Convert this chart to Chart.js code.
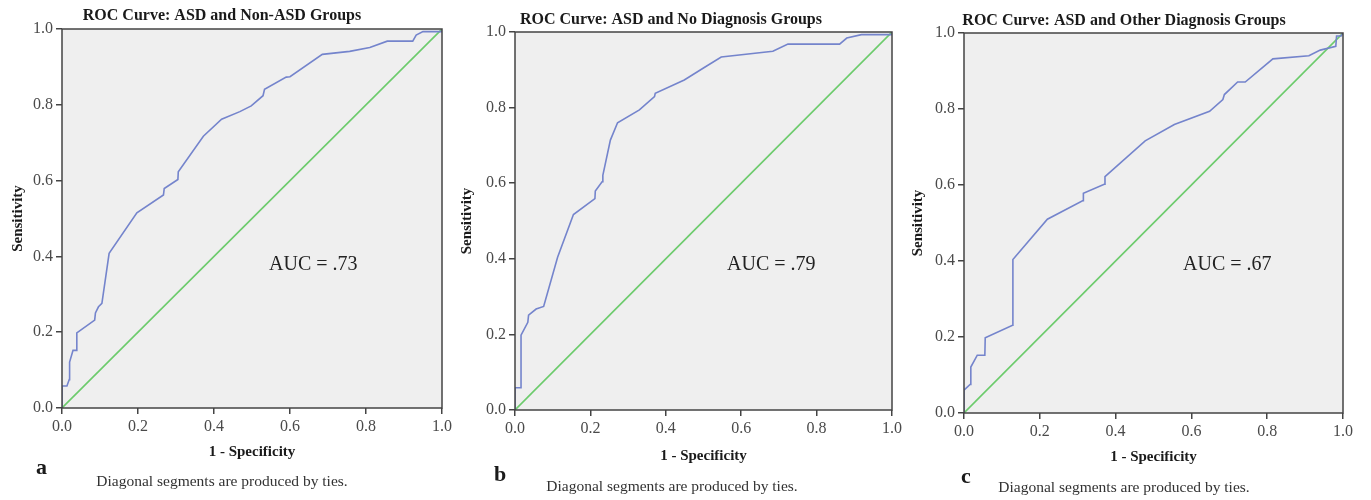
<!DOCTYPE html>
<html>
<head>
<meta charset="utf-8">
<script src="https://cdn.jsdelivr.net/npm/chart.js@4/dist/chart.umd.min.js"></script>
<style>
  body { margin: 0; background: #fff; }
  #wrap { position: relative; width: 1371px; height: 500px; }
  canvas { position: absolute; top: 0; }
</style>
</head>
<body>
<div id="wrap">
  <canvas id="rocA" width="455" height="500" style="left:0px"></canvas>
  <canvas id="rocB" width="455" height="500" style="left:455px"></canvas>
  <canvas id="rocC" width="461" height="500" style="left:910px"></canvas>
</div>
<script>
// axis ticks
var tickValues = [0, 0.2, 0.4, 0.6, 0.8, 1.0];

// chance line
var chanceX = [0, 1];
var chanceY = [0, 1];

// panel a: ASD vs Non-ASD
var fprA = [0, 0, 0.013, 0.019, 0.020, 0.029, 0.039, 0.039, 0.086, 0.088, 0.096, 0.105, 0.124, 0.197, 0.267, 0.269, 0.305, 0.306, 0.372, 0.420, 0.468, 0.498, 0.529, 0.533, 0.590, 0.600, 0.685, 0.757, 0.810, 0.856, 0.923, 0.932, 0.950, 1.0, 1.0];
var tprA = [0, 0.058, 0.058, 0.075, 0.121, 0.152, 0.152, 0.198, 0.232, 0.251, 0.267, 0.276, 0.408, 0.515, 0.562, 0.579, 0.603, 0.623, 0.717, 0.762, 0.782, 0.797, 0.824, 0.841, 0.873, 0.874, 0.933, 0.941, 0.951, 0.968, 0.968, 0.984, 0.993, 0.993, 1.0];

// panel b: ASD vs No Diagnosis
var fprB = [0, 0, 0.016, 0.016, 0.034, 0.036, 0.056, 0.076, 0.113, 0.155, 0.212, 0.213, 0.231, 0.233, 0.253, 0.272, 0.330, 0.370, 0.372, 0.449, 0.502, 0.547, 0.684, 0.724, 0.861, 0.880, 0.919, 1.0, 1.0];
var tprB = [0, 0.059, 0.059, 0.198, 0.232, 0.251, 0.267, 0.274, 0.404, 0.517, 0.559, 0.579, 0.604, 0.621, 0.714, 0.760, 0.794, 0.829, 0.838, 0.873, 0.906, 0.934, 0.949, 0.968, 0.968, 0.984, 0.993, 0.993, 1.0];

// panel c: ASD vs Other Diagnosis
var fprC = [0, 0, 0.016, 0.018, 0.035, 0.055, 0.056, 0.128, 0.129, 0.220, 0.314, 0.315, 0.370, 0.372, 0.478, 0.555, 0.648, 0.683, 0.687, 0.722, 0.742, 0.815, 0.910, 0.940, 0.981, 0.983, 0.995, 1.0];
var tprC = [0, 0.060, 0.075, 0.121, 0.152, 0.152, 0.198, 0.231, 0.404, 0.510, 0.559, 0.578, 0.602, 0.622, 0.716, 0.759, 0.794, 0.825, 0.838, 0.871, 0.871, 0.932, 0.940, 0.955, 0.965, 0.992, 0.992, 1.0];

var titles = ['ROC Curve: ASD and Non-ASD Groups', 'ROC Curve: ASD and No Diagnosis Groups', 'ROC Curve: ASD and Other Diagnosis Groups'];
var aucLabels = ['AUC = .73', 'AUC = .79', 'AUC = .67'];
var panelLetters = ['a', 'b', 'c'];
var xTitle = '1 - Specificity';
var yTitle = 'Sensitivity';
var footnote = 'Diagonal segments are produced by ties.';

var SERIF = '"Liberation Serif", "Times New Roman", serif';

function pts(xs, ys) {
  return xs.map(function (x, i) { return { x: x, y: ys[i] }; });
}

// layout of each panel inside its own canvas
var panels = [
  { id: 'rocA', fpr: fprA, tpr: tprA, plot: [62, 29, 442, 408],
    titleX: 222, titleY: 16, yTitleX: 18, xTitleY: 452, letterX: 42, letterY: 468, noteX: 222, noteY: 482, aucX: 269, aucY: 265 },
  { id: 'rocB', fpr: fprB, tpr: tprB, plot: [60, 32, 437, 410],
    titleX: 216, titleY: 20, yTitleX: 12, xTitleY: 456, letterX: 45, letterY: 475, noteX: 217, noteY: 487, aucX: 272, aucY: 265 },
  { id: 'rocC', fpr: fprC, tpr: tprC, plot: [54, 33, 433, 413],
    titleX: 214, titleY: 21, yTitleX: 8, xTitleY: 457, letterX: 57, letterY: 477, noteX: 214, noteY: 488, aucX: 273, aucY: 265 }
];

var X_AXIS_H = 30;

function makeChart(p, idx) {
  var canvas = document.getElementById(p.id);
  var W = canvas.width, H = canvas.height;

  var decor = {
    id: 'decor' + idx,
    beforeDatasetsDraw: function (chart) {
      var a = chart.chartArea, ctx = chart.ctx;
      ctx.save();
      ctx.fillStyle = '#efefef';
      ctx.fillRect(a.left, a.top, a.right - a.left, a.bottom - a.top);
      ctx.restore();
    },
    afterDatasetsDraw: function (chart) {
      var a = chart.chartArea, ctx = chart.ctx;
      ctx.save();
      ctx.strokeStyle = '#444';
      ctx.lineWidth = 1.5;
      ctx.strokeRect(a.left, a.top, a.right - a.left, a.bottom - a.top);

      ctx.fillStyle = '#1a1a1a';
      ctx.textBaseline = 'middle';
      ctx.textAlign = 'center';
      ctx.font = 'bold 16px ' + SERIF;
      ctx.fillText(titles[idx], p.titleX, p.titleY);

      ctx.font = 'bold 15px ' + SERIF;
      ctx.fillText(xTitle, (a.left + a.right) / 2, p.xTitleY);

      ctx.save();
      ctx.translate(p.yTitleX, (a.top + a.bottom) / 2);
      ctx.rotate(-Math.PI / 2);
      ctx.fillText(yTitle, 0, 0);
      ctx.restore();

      ctx.font = 'bold 22px ' + SERIF;
      ctx.textAlign = 'left';
      ctx.fillText(panelLetters[idx], p.letterX - 6, p.letterY);

      ctx.fillStyle = '#333';
      ctx.font = '15.5px ' + SERIF;
      ctx.textAlign = 'center';
      ctx.fillText(footnote, p.noteX, p.noteY);

      ctx.fillStyle = '#222';
      ctx.font = '20px ' + SERIF;
      ctx.textAlign = 'left';
      ctx.fillText(aucLabels[idx], p.aucX, p.aucY);
      ctx.restore();
    }
  };

  return new Chart(canvas, {
    type: 'line',
    data: {
      datasets: [
        {
          data: pts(p.fpr, p.tpr),
          borderColor: '#7484cc',
          borderWidth: 1.6,
          pointRadius: 0,
          tension: 0
        },
        {
          data: pts(chanceX, chanceY),
          borderColor: '#6ccb6c',
          borderWidth: 1.6,
          pointRadius: 0,
          tension: 0
        }
      ]
    },
    options: {
      responsive: false,
      animation: false,
      layout: {
        padding: { left: 0, top: p.plot[1], right: W - p.plot[2], bottom: H - p.plot[3] - X_AXIS_H }
      },
      plugins: { legend: { display: false }, tooltip: { enabled: false } },
      scales: {
        x: {
          type: 'linear',
          min: 0, max: 1,
          afterFit: function (s) { s.height = X_AXIS_H; },
          afterBuildTicks: function (s) { s.ticks = tickValues.map(function (v) { return { value: v }; }); },
          grid: { drawOnChartArea: false, drawTicks: true, tickLength: 6, color: '#444', lineWidth: 1.5 },
          border: { display: false },
          ticks: {
            color: '#4a4a4a',
            padding: 3,
            maxRotation: 0,
            font: { family: SERIF, size: 16 },
            callback: function (v) { return Number(v).toFixed(1); }
          }
        },
        y: {
          type: 'linear',
          min: 0, max: 1,
          afterFit: function (s) { s.width = p.plot[0]; },
          afterBuildTicks: function (s) { s.ticks = tickValues.map(function (v) { return { value: v }; }); },
          grid: { drawOnChartArea: false, drawTicks: true, tickLength: 6, color: '#444', lineWidth: 1.5 },
          border: { display: false },
          ticks: {
            color: '#4a4a4a',
            padding: 3,
            font: { family: SERIF, size: 16 },
            callback: function (v) { return Number(v).toFixed(1); }
          }
        }
      }
    },
    plugins: [decor]
  });
}

panels.forEach(makeChart);
</script>
</body>
</html>
